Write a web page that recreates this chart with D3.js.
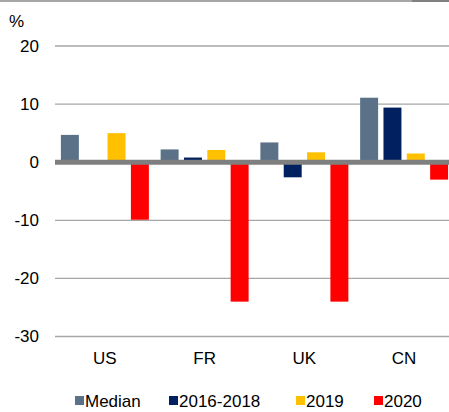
<!DOCTYPE html>
<html lang="en">
<head>
    <meta charset="UTF-8">
    <title>Change by country</title>
    <style>
        body { margin: 0; padding: 0; overflow: hidden; background: #fff; }
        svg { display: block; }
        text { font-family: "Liberation Sans", Arial, sans-serif; fill: #000; }
    </style>
</head>
<body>
    <script src="https://d3js.org/d3.v7.min.js"></script>
    <script>
        // Data
        const countries = ["US", "FR", "UK", "CN"];
        const seriesNames = ["Median", "2016-2018", "2019", "2020"];
        const seriesColors = ["#5b7187", "#002060", "#ffc000", "#ff0000"];
        const median = [4.7, 2.2, 3.4, 11.1];
        const y2016_2018 = [0, 0.8, -2.6, 9.4];
        const y2019 = [5.0, 2.1, 1.7, 1.5];
        const y2020 = [-9.9, -24.0, -24.0, -3.0];
        const yTicks = [20, 10, 0, -10, -20, -30];

        const values = [median, y2016_2018, y2019, y2020];

        const width = 449;
        const height = 412;

        const svg = d3.select("body").append("svg")
            .attr("width", width)
            .attr("height", height);

        // thin frame line at the very top
        svg.append("line")
            .attr("x1", 0).attr("x2", 412).attr("y1", 1).attr("y2", 1)
            .attr("stroke", "#a6a6a6").attr("stroke-width", 2);
        svg.append("line")
            .attr("x1", 412).attr("x2", width).attr("y1", 1).attr("y2", 1)
            .attr("stroke", "#808080").attr("stroke-width", 2);

        // Scales
        const x0 = d3.scaleBand()
            .domain(countries)
            .range([55, 454])
            .paddingInner(0.118)
            .paddingOuter(0.059);

        const x1 = d3.scaleBand()
            .domain(seriesNames)
            .range([0, x0.bandwidth()])
            .paddingInner(0.23);

        const y = d3.scaleLinear()
            .domain([-30, 20])
            .range([336.5, 46]);

        // Gridlines
        svg.append("g")
            .selectAll("line")
            .data(yTicks.filter(d => d !== 0))
            .join("line")
            .attr("x1", 55).attr("x2", width)
            .attr("y1", d => y(d)).attr("y2", d => y(d))
            .attr("stroke", "#a6a6a6")
            .attr("stroke-width", 1.3);

        // Y axis labels (plain hyphen for negatives, like the original)
        const yAxis = svg.append("g")
            .attr("transform", "translate(39,0)")
            .call(d3.axisLeft(y).tickValues(yTicks).tickFormat(d => String(d)).tickSize(0).tickPadding(0));
        yAxis.select(".domain").remove();
        yAxis.selectAll("text")
            .attr("font-size", "17px")
            .attr("font-family", "Liberation Sans, Arial, sans-serif")
            .attr("fill", "#000");

        svg.append("text")
            .attr("x", 9).attr("y", 27)
            .attr("font-size", "17px")
            .text("%");

        // Bars
        const groups = svg.append("g")
            .selectAll("g")
            .data(countries)
            .join("g")
            .attr("transform", d => `translate(${x0(d)},0)`);

        groups.selectAll("rect")
            .data((c, i) => seriesNames.map((s, k) => ({ key: s, value: values[k][i], color: seriesColors[k] })))
            .join("rect")
            .attr("x", d => x1(d.key))
            .attr("width", x1.bandwidth())
            .attr("y", d => y(Math.max(0, d.value)))
            .attr("height", d => Math.abs(y(d.value) - y(0)))
            .attr("fill", d => d.color);

        // Zero line on top of the bars
        svg.append("line")
            .attr("x1", 55).attr("x2", width)
            .attr("y1", y(0)).attr("y2", y(0))
            .attr("stroke", "#7f7f7f")
            .attr("stroke-width", 5);

        // Category labels
        const xAxis = svg.append("g")
            .attr("transform", "translate(0,364)")
            .call(d3.axisBottom(x0).tickSize(0).tickPadding(0));
        xAxis.select(".domain").remove();
        xAxis.selectAll("text")
            .attr("dy", 0)
            .attr("font-size", "17px")
            .attr("font-family", "Liberation Sans, Arial, sans-serif")
            .attr("fill", "#000");

        // Legend
        const legendX = [75, 169, 296, 374];
        const legend = svg.append("g")
            .selectAll("g")
            .data(seriesNames)
            .join("g")
            .attr("transform", (d, i) => `translate(${legendX[i]},407)`);

        legend.append("rect")
            .attr("x", 0).attr("y", -11)
            .attr("width", 9).attr("height", 9)
            .attr("fill", (d, i) => seriesColors[i]);

        legend.append("text")
            .attr("x", 10)
            .attr("font-size", "17px")
            .text(d => d);
    </script>
</body>
</html>
